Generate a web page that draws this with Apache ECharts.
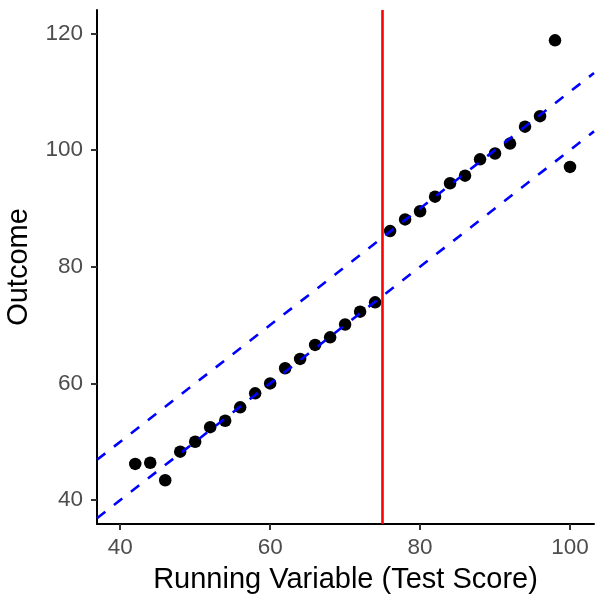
<!DOCTYPE html>
<html>
<head>
<meta charset="utf-8">
<script src="https://cdn.jsdelivr.net/npm/echarts@6/dist/echarts.min.js"></script>
<style>
html,body{margin:0;padding:0;background:#fff;}
#chart{width:601px;height:596px;}
</style>
</head>
<body>
<div id="chart"></div>
<script>
// Data
var runningVar = [42,44,46,48,50,52,54,56,58,60,62,64,66,68,70,72,74,76,78,80,82,84,86,88,90,92,94,96,98,100];
var outcome = [46.2,46.4,43.4,48.3,50.0,52.5,53.6,55.9,58.3,60.0,62.6,64.2,66.6,67.9,70.1,72.3,73.9,86.1,88.1,89.5,92.0,94.3,95.6,98.4,99.4,101.1,104.0,105.8,118.8,97.1];
var cutoff = 75;
var lowerLine = [[36.9,36.9],[103.2,103.2]];   // y = x
var upperLine = [[36.9,46.9],[103.2,113.2]];   // y = x + 10
var xTicks = [40,60,80,100];
var yTicks = [40,60,80,100,120];

var points = runningVar.map(function(x,i){return [x,outcome[i]];});

var chart = echarts.init(document.getElementById('chart'), null, {renderer:'canvas'});
var FONT = 'Liberation Sans, Arial, sans-serif';
var axisCommon = {
  axisLine:{show:true,onZero:false,lineStyle:{color:'#000',width:2}},
  axisTick:{show:true,length:6,lineStyle:{color:'#333',width:2}},
  splitLine:{show:false},
  nameTextStyle:{color:'#000',fontSize:29,fontFamily:FONT}
};
chart.setOption({
  animation:false,
  backgroundColor:'#fff',
  grid:{left:97,right:7,top:10,bottom:72,containLabel:false,outerBoundsMode:'none'},
  xAxis:Object.assign({},axisCommon,{
    type:'value',min:36.9,max:103.2,
    name:'Running Variable (Test Score)',nameLocation:'middle',nameGap:41,
    axisTick:Object.assign({},axisCommon.axisTick,{customValues:xTicks}),
    axisLabel:{customValues:xTicks,color:'#4D4D4D',fontSize:22.5,margin:12,fontFamily:FONT}
  }),
  yAxis:Object.assign({},axisCommon,{
    type:'value',min:35.9,max:124,
    name:'Outcome',nameLocation:'middle',nameGap:64,nameRotate:90,
    axisTick:Object.assign({},axisCommon.axisTick,{customValues:yTicks}),
    axisLabel:{customValues:yTicks,color:'#4D4D4D',fontSize:22.5,margin:14,fontFamily:FONT}
  }),
  series:[
    {type:'scatter',data:points,symbolSize:12.5,itemStyle:{color:'#000',opacity:1},z:2,silent:true},
    {type:'line',data:lowerLine,symbol:'none',lineStyle:{color:'#0000FF',width:2.6,type:[10.5,11]},z:3,silent:true},
    {type:'line',data:upperLine,symbol:'none',lineStyle:{color:'#0000FF',width:2.6,type:[10.5,11]},z:3,silent:true,
     markLine:{silent:true,symbol:'none',label:{show:false},lineStyle:{color:'#FF0000',width:2.6,type:'solid'},data:[{xAxis:cutoff}]}}
  ]
});
</script>
</body>
</html>
